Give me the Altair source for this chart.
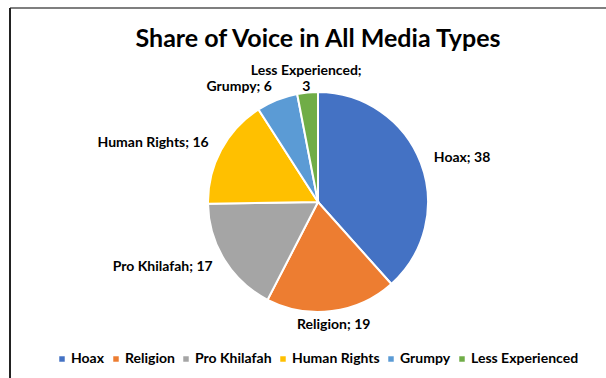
import altair as alt
import pandas as pd

categories = ["Hoax", "Religion", "Pro Khilafah", "Human Rights", "Grumpy", "Less Experienced"]
values = [38, 19, 17, 16, 6, 3]
colors = ["#4472C4", "#ED7D31", "#A5A5A5", "#FFC000", "#5B9BD5", "#70AD47"]

total = sum(values)
FONT = "Lato"

df = pd.DataFrame({"category": categories, "value": values, "idx": list(range(len(categories)))})

frame_df = pd.DataFrame({"a": [0]})
top_line = alt.Chart(frame_df).mark_rule(color="#7f7f7f", strokeWidth=2).encode(
    x=alt.value(-198), x2=alt.value(398), y=alt.value(-84)
)
left_line = alt.Chart(frame_df).mark_rule(color="#222222", strokeWidth=2).encode(
    x=alt.value(-198), y=alt.value(-84), y2=alt.value(286)
)

arc = alt.Chart(df).mark_arc(outerRadius=110, stroke="white", strokeWidth=2).encode(
    theta=alt.Theta("value:Q", stack=True),
    order=alt.Order("idx:Q"),
    color=alt.Color(
        "category:N",
        sort=categories,
        scale=alt.Scale(domain=categories, range=colors),
        legend=alt.Legend(
            orient="none", legendX=-153, legendY=260, direction="horizontal",
            columns=6, title=None, symbolType="square", symbolSize=30,
            labelFont=FONT, labelFontSize=14, labelFontWeight="bold",
            labelColor="black", columnPadding=4, labelOffset=2,
            symbolStrokeWidth=0,
        ),
    ),
)

text = (
    alt.Chart(df)
    .transform_joinaggregate(total="sum(value)")
    .transform_window(cum="sum(value)", sort=[alt.SortField("idx")], frame=[None, 0])
    .transform_calculate(
        mid="datum.cum - datum.value / 2",
        s="sin(2 * PI * (datum.cum - datum.value / 2) / datum.total)",
        c="cos(2 * PI * (datum.cum - datum.value / 2) / datum.total)",
    )
    .transform_calculate(
        side="abs(datum.s) < 0.2 ? 'center' : (datum.s > 0 ? 'left' : 'right')",
        vbase="abs(datum.s) < 0.2 && datum.c > 0 ? 'line-bottom' : 'middle'",
        label="length(datum.category) > 14 ? datum.category + ';\\n' + datum.value : datum.category + '; ' + datum.value",
    )
    .mark_text(
        radius=124, font=FONT, fontSize=14, fontWeight="bold", color="black",
        align={"expr": "datum.side"}, baseline={"expr": "datum.vbase"}, lineBreak="\n",
    )
    .encode(
        theta=alt.Theta("mid:Q", stack=None, scale=alt.Scale(domain=[0, total])),
        text="label:N",
    )
)

chart = (
    alt.layer(top_line, left_line, arc, text)
    .resolve_scale(theta="independent")
    .properties(
        width=220,
        height=220,
        padding={"left": 208, "top": 92, "right": 178, "bottom": 66},
        autosize="none",
        background="white",
        title=alt.Title(
            "Share of Voice in All Media Types", font=FONT, fontSize=25,
            fontWeight="bold", color="black", frame="group", anchor="middle",
            offset=0, dy=45,
        ),
    )
    .configure_view(stroke=None)
)

chart.save("out.html", embed_options={"renderer": "svg", "actions": False})
